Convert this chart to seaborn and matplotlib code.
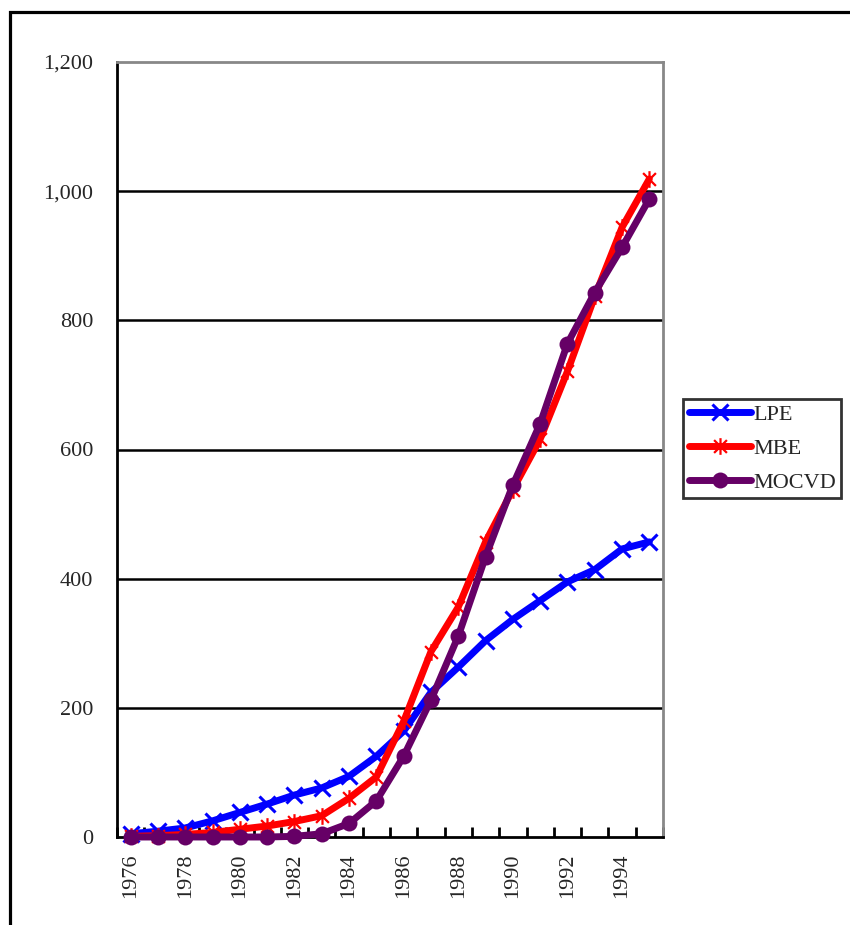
import numpy as np
import pandas as pd
import matplotlib
matplotlib.use("Agg")
import matplotlib.pyplot as plt
import matplotlib.path as mpath
from matplotlib.patches import Rectangle
from matplotlib.ticker import FuncFormatter, MultipleLocator, FixedLocator
import seaborn as sns

# data
years = list(range(1976, 1996))
lpe = [5, 9, 14, 25, 38, 51, 65, 76, 94, 125, 164, 224, 263, 304, 337, 366, 395, 414, 446, 457]
mbe = [1, 2, 4, 7, 12, 17, 24, 33, 60, 93, 179, 287, 356, 457, 538, 616, 721, 837, 944, 1019]
mocvd = [0, 0, 0, 0, 0, 0, 1, 5, 21, 56, 125, 212, 311, 434, 545, 640, 764, 843, 913, 988]
series_names = ["LPE", "MBE", "MOCVD"]

sns.set_style("white")
plt.rcParams["font.family"] = ["Liberation Serif", "DejaVu Serif"]

# excel style star: an x plus a vertical bar
star = mpath.Path(
    [(-1, -1), (1, 1), (-1, 1), (1, -1), (0, -1.3), (0, 1.3)],
    [mpath.Path.MOVETO, mpath.Path.LINETO] * 3,
)

styles = {
    "LPE": dict(color="#0000FF", marker="x", markersize=12, markeredgewidth=2.2),
    "MBE": dict(color="#FF0000", marker=star, markersize=12, markeredgewidth=1.6),
    "MOCVD": dict(color="#660066", marker="o", markersize=11.5, markeredgewidth=0),
}

fig = plt.figure(figsize=(8.5, 9.25), dpi=100)
ax = fig.add_axes([117 / 850, 1 - 837 / 925, 546 / 850, 775 / 925])

for name, vals in zip(series_names, [lpe, mbe, mocvd]):
    st = styles[name]
    sns.lineplot(x=years, y=vals, ax=ax, label=name, linewidth=5,
                 color=st["color"], marker=st["marker"],
                 markersize=st["markersize"],
                 markeredgewidth=st["markeredgewidth"],
                 markeredgecolor=st["color"], markerfacecolor=st["color"],
                 solid_capstyle="round", solid_joinstyle="round",
                 clip_on=False, zorder=3)

ax.set_xlim(1975.5, 1995.5)
ax.set_ylim(0, 1200)
ax.set_xlabel("")
ax.set_ylabel("")

# y axis
ax.yaxis.set_major_locator(MultipleLocator(200))
ax.yaxis.set_major_formatter(FuncFormatter(lambda v, p: f"{int(v):,}"))
ax.tick_params(axis="y", which="major", direction="out", length=7, width=2,
               color="black", labelsize=16, pad=10)
for yv in range(200, 1200, 200):
    ax.axhline(yv, color="black", linewidth=1.8, zorder=1)

# x axis: labels every other year, tick marks between categories
ax.xaxis.set_major_locator(FixedLocator(years[::2]))
ax.set_xticklabels([str(y) for y in years[::2]], rotation=90)
ax.xaxis.set_minor_locator(FixedLocator(np.arange(1975.5, 1996, 1)))
ax.tick_params(axis="x", which="major", length=0, labelsize=16, pad=12)
ax.tick_params(axis="x", which="minor", direction="in", length=7, width=2,
               color="black", bottom=True)

for side in ["left", "bottom"]:
    ax.spines[side].set_color("black")
    ax.spines[side].set_linewidth(2)
for side in ["top", "right"]:
    ax.spines[side].set_color("#888888")
    ax.spines[side].set_linewidth(2)
    ax.spines[side].set_visible(True)

leg = ax.legend(loc="upper left", bbox_to_anchor=(683 / 850, 1 - 399 / 925),
                bbox_transform=fig.transFigure, fontsize=16, frameon=True,
                fancybox=False, edgecolor="black", handlelength=2.8,
                handletextpad=0.1, borderpad=0.25, labelspacing=0.6,
                borderaxespad=0)
leg.get_frame().set_linewidth(2)

# outer chart border (cropped at right and bottom)
fig.patches.append(Rectangle((10 / 850, -0.1), 1.2, 1 - 12 / 925 + 0.1,
                             transform=fig.transFigure, fill=False,
                             edgecolor="black", linewidth=2.3))

fig.savefig("out.png", dpi=100)
